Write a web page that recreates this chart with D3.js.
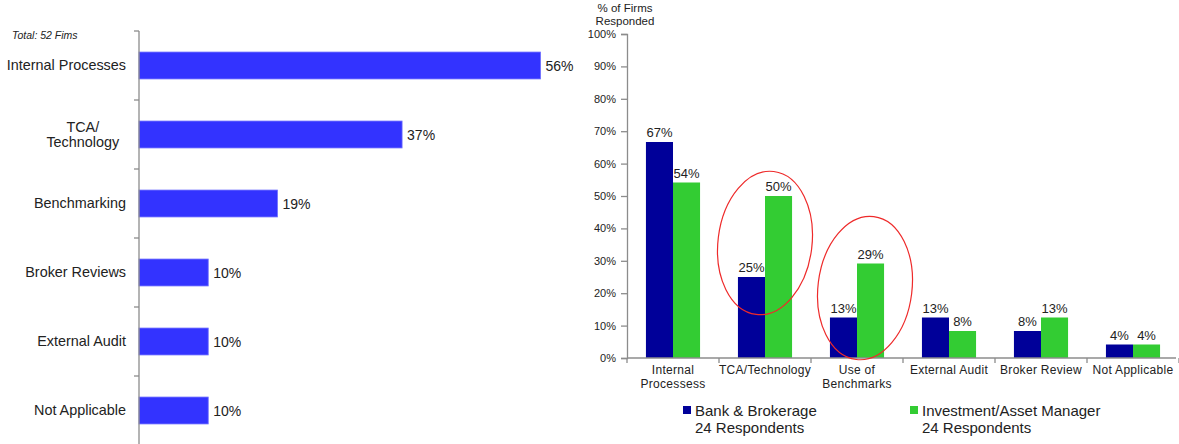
<!DOCTYPE html>
<html>
<head>
<meta charset="utf-8">
<script src="https://cdn.jsdelivr.net/npm/d3@7/dist/d3.min.js"></script>
<style>
  html, body { margin: 0; padding: 0; background: #fff; }
  svg { display: block; font-family: "Liberation Sans", Arial, sans-serif; }
</style>
</head>
<body>
<svg id="chart" width="1179" height="444"></svg>
<script>
// ---- Left panel: all firms (counts out of 52) ----
const totalFirms = 52;
const leftCategories = ["Internal Processes", "TCA/\nTechnology", "Benchmarking", "Broker Reviews", "External Audit", "Not Applicable"];
const leftCounts = [29, 19, 10, 5, 5, 5];

// ---- Right panel: split by firm type (counts out of 24 each) ----
const rightCategories = ["Internal\nProcessess", "TCA/Technology", "Use of\nBenchmarks", "External Audit", "Broker Review", "Not Applicable"];
const seriesNames = ["Bank & Brokerage", "Investment/Asset Manager"];
const seriesRespondents = [24, 24];
const bankCounts = [16, 6, 3, 3, 2, 1];
const assetCounts = [13, 12, 7, 2, 3, 1];
const yTicks = [0, 10, 20, 30, 40, 50, 60, 70, 80, 90, 100];
// ring annotations: category, vertical centre (in % units), horizontal nudge
const highlightCats = ["TCA/Technology", "Use of\nBenchmarks"];
const highlightCentrePct = [35.5, 21.6];
const highlightNudge = [0, 8];

const TEXT = "#222";
const AXIS = "#8c8c8c";
const LEFT_BLUE = "#3333ff";
const DARK_BLUE = "#000099";
const GREEN = "#33cc33";

const svg = d3.select("#chart");
const pct = d3.format(".0f");

// ================= Left horizontal bar chart =================
const leftData = leftCategories.map((c, i) => ({ cat: c, value: leftCounts[i] / totalFirms * 100 }));

const lx = d3.scaleLinear().domain([0, 100]).range([139, 859]);
const ly = d3.scaleBand().domain(leftCategories).range([31, 445]).paddingInner(0.61).paddingOuter(0.305);
const lgap = (ly.step() - ly.bandwidth()) / 2;

const left = svg.append("g");

left.append("text")
  .attr("x", 12).attr("y", 39)
  .attr("font-size", 10.5).attr("font-style", "italic").attr("fill", TEXT)
  .text("Total: " + totalFirms + " Fims");

left.selectAll("rect.bar").data(leftData).join("rect")
  .attr("class", "bar")
  .attr("x", lx(0))
  .attr("y", d => ly(d.cat))
  .attr("width", d => lx(d.value) - lx(0))
  .attr("height", ly.bandwidth())
  .attr("fill", LEFT_BLUE)
  .attr("stroke", "#6f6fff").attr("stroke-width", 0.8);

left.selectAll("text.val").data(leftData).join("text")
  .attr("class", "val")
  .attr("x", d => lx(d.value) + 5)
  .attr("y", d => ly(d.cat) + ly.bandwidth() / 2 + 5)
  .attr("font-size", 14).attr("fill", TEXT)
  .text(d => pct(d.value) + "%");

// vertical axis line with ticks at band boundaries
left.append("line")
  .attr("x1", lx(0)).attr("x2", lx(0))
  .attr("y1", ly.range()[0]).attr("y2", 444)
  .attr("stroke", AXIS).attr("stroke-width", 1.3);
left.selectAll("line.tick").data(leftCategories).join("line")
  .attr("class", "tick")
  .attr("x1", lx(0) - 5).attr("x2", lx(0))
  .attr("y1", d => ly(d) - lgap).attr("y2", d => ly(d) - lgap)
  .attr("stroke", AXIS).attr("stroke-width", 1.3);

// category labels, multi-line labels centred as a block, right edge at x=126
left.selectAll("text.cat").data(leftCategories).join("text")
  .attr("class", "cat")
  .attr("font-size", 14.4).attr("fill", TEXT)
  .attr("text-anchor", "middle")
  .each(function (d) {
    const lines = d.split("\n");
    const cy = ly(d) + ly.bandwidth() / 2;
    const t = d3.select(this);
    lines.forEach((ln, i) => {
      t.append("tspan").attr("y", cy + 4.5 - (lines.length - 1) * 7.5 + i * 15).text(ln);
    });
    const w = this.getBBox().width;
    t.selectAll("tspan").attr("x", 126 - w / 2);
  });

// ================= Right grouped column chart =================
const rightData = rightCategories.map((c, i) => ({
  cat: c,
  values: [bankCounts[i] / seriesRespondents[0] * 100, assetCounts[i] / seriesRespondents[1] * 100]
}));
const colors = [DARK_BLUE, GREEN];

const ry = d3.scaleLinear().domain([0, 100]).range([358, 34]);
const rx0 = d3.scaleBand().domain(rightCategories).range([627, 1179]);
const rx1 = d3.scaleBand().domain(seriesNames).range([0, rx0.bandwidth()]).paddingOuter(0.7);

const right = svg.append("g");

// y axis title
right.append("text")
  .attr("text-anchor", "middle").attr("font-size", 11.5).attr("fill", TEXT)
  .selectAll("tspan").data(["% of Firms", "Responded"]).join("tspan")
  .attr("x", 625).attr("y", (d, i) => 12 + i * 13).text(d => d);

// y axis
const yAxis = right.append("g")
  .attr("transform", `translate(${rx0.range()[0]},0)`)
  .call(d3.axisLeft(ry).tickValues(yTicks).tickFormat(d => d + "%").tickSize(6).tickPadding(5));
yAxis.select(".domain").attr("stroke", AXIS).attr("stroke-width", 1.3);
yAxis.selectAll(".tick line").attr("stroke", AXIS).attr("stroke-width", 1.3);
yAxis.selectAll(".tick text")
  .attr("font-family", "'Liberation Sans', Arial, sans-serif")
  .attr("font-size", 11).attr("fill", TEXT);

// bars
const groups = right.selectAll("g.grp").data(rightData).join("g")
  .attr("class", "grp")
  .attr("transform", d => `translate(${rx0(d.cat)},0)`);

groups.selectAll("rect").data(d => d.values.map((v, i) => ({ s: seriesNames[i], v, c: colors[i] }))).join("rect")
  .attr("x", d => rx1(d.s))
  .attr("y", d => ry(d.v))
  .attr("width", rx1.bandwidth())
  .attr("height", d => ry(0) - ry(d.v))
  .attr("fill", d => d.c);

groups.selectAll("text").data(d => d.values.map((v, i) => ({ s: seriesNames[i], v }))).join("text")
  .attr("x", d => rx1(d.s) + rx1.bandwidth() / 2)
  .attr("y", d => ry(d.v) - 5)
  .attr("text-anchor", "middle").attr("font-size", 13).attr("fill", TEXT)
  .text(d => pct(d.v) + "%");

// x axis line and boundary ticks
right.append("line")
  .attr("x1", rx0.range()[0]).attr("x2", 1176)
  .attr("y1", ry(0)).attr("y2", ry(0))
  .attr("stroke", AXIS).attr("stroke-width", 1.3);
const bounds = rightCategories.map(c => rx0(c)).concat([rx0.range()[1]]);
right.selectAll("line.xt").data(bounds).join("line")
  .attr("class", "xt")
  .attr("x1", d => d).attr("x2", d => d)
  .attr("y1", ry(0)).attr("y2", ry(0) + 5)
  .attr("stroke", AXIS).attr("stroke-width", 1.3);

// category labels
right.selectAll("text.xcat").data(rightCategories).join("text")
  .attr("class", "xcat")
  .attr("text-anchor", "middle").attr("font-size", 12).attr("letter-spacing", 0.3).attr("fill", TEXT)
  .each(function (d) {
    const t = d3.select(this);
    d.split("\n").forEach((ln, i) => {
      t.append("tspan").attr("x", rx0(d) + rx0.bandwidth() / 2).attr("y", 374 + i * 13.5).text(ln);
    });
  });

// ring annotations around the highlighted categories
right.selectAll("ellipse").data(highlightCats).join("ellipse")
  .attr("cx", 0).attr("cy", 0)
  .attr("rx", 47).attr("ry", 72)
  .attr("transform", (d, i) => {
    const cx = rx0(d) + rx0.bandwidth() / 2 + highlightNudge[i];
    return `translate(${cx},${ry(highlightCentrePct[i])}) rotate(7)`;
  })
  .attr("fill", "none").attr("stroke", "#ee2a2a").attr("stroke-width", 1.2);

// legend
const legend = right.selectAll("g.leg").data(seriesNames).join("g")
  .attr("class", "leg")
  .attr("transform", (d, i) => `translate(${[683, 910][i]},0)`);
legend.append("rect")
  .attr("x", 0).attr("y", 406).attr("width", 8).attr("height", 8)
  .attr("fill", (d, i) => colors[i]);
legend.append("text")
  .attr("font-size", 15).attr("fill", TEXT)
  .each(function (d, i) {
    const t = d3.select(this);
    t.append("tspan").attr("x", 12).attr("y", 416).text(d);
    t.append("tspan").attr("x", 12).attr("y", 433).text(seriesRespondents[i] + " Respondents");
  });
</script>
</body>
</html>
